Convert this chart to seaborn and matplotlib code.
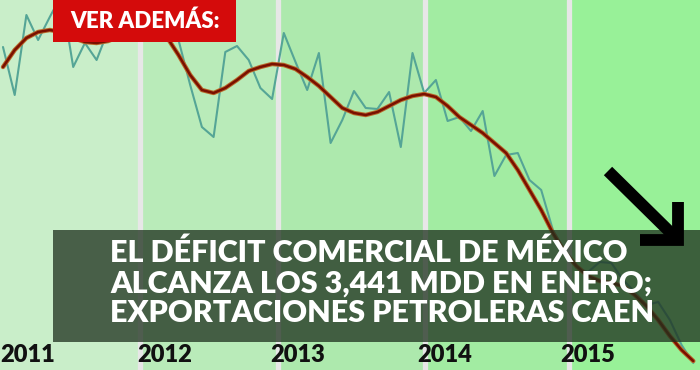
import numpy as np
import pandas as pd
import matplotlib
matplotlib.use('Agg')
import matplotlib.pyplot as plt
import seaborn as sns
from matplotlib.patches import Rectangle
from matplotlib.lines import Line2D

W, H = 700, 370

years = ['2011', '2012', '2013', '2014', '2015']
band_colors = ['#c9eec9', '#b9ebb9', '#ade9ad', '#a2eca2', '#98f198']

# monthly level from Jan 2011 (relative units)
monthly = [323, 275, 355, 330, 353, 375, 303, 327, 310, 340,
           350, 345, 355, 350, 360, 330, 285, 243, 233, 318,
           324, 310, 282, 271, 337, 308, 280, 317, 227, 250,
           279, 262, 261, 278, 223, 317, 277, 290, 249, 253,
           239, 259, 194, 215, 217, 190, 180, 140, 120, 102,
           98, 108, 107, 90, 78, 65, 68, 50, 25, 7]
# smoothed trend
trend = [303, 320, 332, 338, 340, 338, 332, 328, 327, 329,
         334, 338, 340, 338, 333, 315, 295, 280, 277, 282,
         290, 299, 303, 306, 305, 301, 293, 284, 273, 262,
         257, 255, 258, 264, 270, 274, 276, 273, 264, 253,
         245, 237, 227, 217, 200, 180, 160, 137, 118, 104,
         94, 89, 87, 84, 75, 64, 50, 34, 20, 9]

headline = ['EL DÉFICIT COMERCIAL DE MÉXICO',
            'ALCANZA LOS 3,441 MDD EN ENERO;',
            'EXPORTACIONES PETROLERAS CAEN']

df = pd.DataFrame({'mes': np.arange(len(monthly)), 'mensual': monthly, 'tendencia': trend})

sns.set_theme(style='white')
plt.rcParams['font.family'] = ['Lato', 'DejaVu Sans']

fig = plt.figure(figsize=(W / 100, H / 100), dpi=100)
ax = fig.add_axes([0, 0, 1, 1])

step = 11.7  # pixels per month
x0 = -3 / step


def fx(px):
    return px / W


def fy(py):
    return 1 - py / H


# year bands and separators (pixel edges)
edges = [0, 139.5, 278, 424.5, 568.5, W]
for i, c in enumerate(band_colors):
    ax.add_patch(Rectangle((fx(edges[i]), 0), fx(edges[i + 1] - edges[i]), 1,
                           transform=ax.transAxes, color=c, zorder=0, lw=0))
for e in edges[1:-1]:
    ax.add_line(Line2D([fx(e), fx(e)], [0, 1], transform=ax.transAxes,
                       color='#e7e7e7', lw=3.8, zorder=1))

sns.lineplot(data=df, x='mes', y='mensual', ax=ax, color='#55a596', lw=1.5, zorder=2)
sns.lineplot(data=df, x='mes', y='tendencia', ax=ax, color='#b8692a', lw=3.2, zorder=3)
sns.lineplot(data=df, x='mes', y='tendencia', ax=ax, color='#7a1000', lw=1.8, zorder=3)
ax.set_xlim(x0, x0 + W / step)
ax.set_ylim(0, H)
ax.axis('off')

# headline box
ax.add_patch(Rectangle((fx(53), fy(342)), fx(W - 53), (342 - 230) / H,
                       transform=ax.transAxes, color='#1f321f', alpha=0.76, lw=0, zorder=5))
for s, b in zip(headline, [262, 293, 322]):
    ax.text(fx(110), fy(b), s, transform=ax.transAxes, color='white',
            fontsize=22, fontweight='heavy', va='baseline', ha='left', zorder=6)

# year labels
for s, px in zip(years, [0, 137, 270, 417, 560]):
    ax.text(fx(px), fy(362), s, transform=ax.transAxes, color='#111111',
            fontsize=17, fontweight='heavy', va='baseline', ha='left', zorder=6)

# down arrow
ax.add_line(Line2D([fx(608), fx(675)], [fy(171), fy(237)], transform=ax.transAxes,
                   color='black', lw=8.5, solid_capstyle='butt', zorder=7))
ax.add_line(Line2D([fx(640), fx(678), fx(678)], [fy(240), fy(240), fy(202)],
                   transform=ax.transAxes, color='black', lw=8.5,
                   solid_joinstyle='miter', solid_capstyle='butt', zorder=7))

# "ver además" tag
ax.add_patch(Rectangle((fx(53), fy(42)), fx(183), 42 / H, transform=ax.transAxes,
                       color='#d40b0b', lw=0, zorder=8))
ax.text(fx(70), fy(28), 'VER ADEMÁS:', transform=ax.transAxes, color='white',
        fontsize=16, fontweight='heavy', va='baseline', ha='left', zorder=9)

fig.savefig('out.png', dpi=100)
